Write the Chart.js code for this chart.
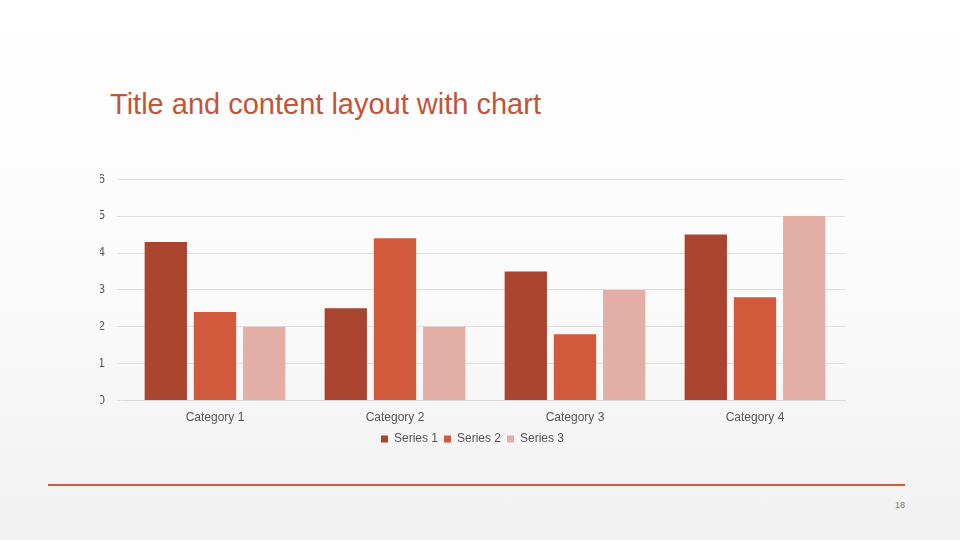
<!DOCTYPE html>
<html><head><meta charset="utf-8">
<script src="https://cdn.jsdelivr.net/npm/chart.js@4/dist/chart.umd.min.js"></script>
<style>
html,body{margin:0;padding:0;width:960px;height:540px;overflow:hidden;font-family:"Liberation Sans",Arial,sans-serif;}
body{background:linear-gradient(#ffffff 0%,#fbfbfb 50%,#f1f1f1 100%);position:relative;}
#title{position:absolute;left:110px;top:88px;font-size:29px;color:#C0553A;}
#line{position:absolute;left:48px;top:484px;width:857px;height:2px;background:#C8603E;}
#pg{position:absolute;left:895px;top:500px;font-size:9px;color:#777;}
#wrap{position:absolute;left:100px;top:160px;width:750px;height:295px;}
</style></head><body>
<div id="title">Title and content layout with chart</div>
<div id="wrap"><canvas id="c"></canvas></div>
<div id="line"></div><div id="pg">18</div>
<script>
const categories=["Category 1","Category 2","Category 3","Category 4"];
const series1=[4.3,2.5,3.5,4.5];
const series2=[2.4,4.4,1.8,2.8];
const series3=[2,2,3,5];
const yTicks=[0,1,2,3,4,5,6];
new Chart(document.getElementById('c'),{
type:'bar',
data:{labels:categories,datasets:[
{label:'Series 1',data:series1,backgroundColor:'#A9442F'},
{label:'Series 2',data:series2,backgroundColor:'#D15A3D'},
{label:'Series 3',data:series3,backgroundColor:'#E3AEA6'}]},
options:{responsive:true,maintainAspectRatio:false,animation:false,
datasets:{bar:{categoryPercentage:0.82,barPercentage:0.86}},
layout:{padding:{top:2,right:5,bottom:0,left:0}},
plugins:{legend:{position:'bottom',labels:{boxWidth:7,boxHeight:7,padding:6,color:'#555',font:{size:12}}},tooltip:{enabled:false}},
scales:{
x:{grid:{display:false},border:{color:'#d9d9d9'},ticks:{color:'#555',font:{size:12},padding:2}},
y:{min:0,max:6,afterFit:s=>{s.width=25;},afterBuildTicks:s=>{s.ticks=yTicks.map(v=>({value:v}));},
grid:{color:'#e0e0e0'},border:{display:false},ticks:{color:'#555',font:{size:12},padding:12}}
}}});
</script></body></html>
